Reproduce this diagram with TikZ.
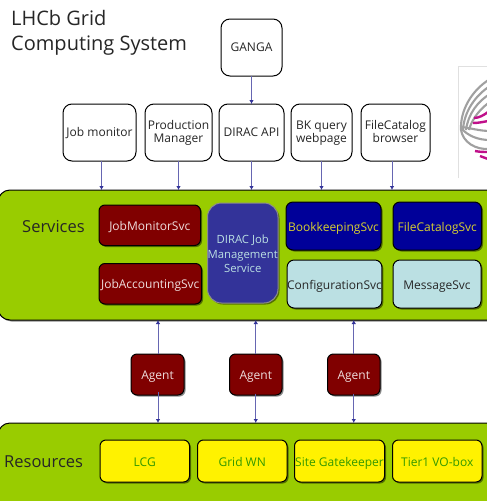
\documentclass[tikz,border=0pt]{standalone}
\usepackage{fontspec}
\setmainfont{Open Sans}
\usetikzlibrary{shadows,arrows.meta}
\definecolor{panelgreen}{HTML}{99CC00}
\definecolor{darkred}{HTML}{800000}
\definecolor{jobblue}{HTML}{333399}
\definecolor{navyblue}{HTML}{000099}
\definecolor{paleblue}{HTML}{BBE0E3}
\definecolor{mutedyellow}{HTML}{D8D030}
\definecolor{textgreen}{HTML}{339900}
\definecolor{palepink}{HTML}{EEDDDD}
\definecolor{logomag}{HTML}{C0108A}
\definecolor{logogray}{HTML}{A0A0A0}
\tikzset{
  base/.style={draw=black,line width=1pt,rounded corners=6pt,inner sep=0pt,outer sep=0pt,align=center,
    font=\fontsize{12}{13.5}\selectfont},
  shade/.style={drop shadow={shadow xshift=1.5pt,shadow yshift=-1.5pt,fill=black,opacity=0.45}},
  client/.style={base,fill=white,text=black!85,rounded corners=9pt},
  panel/.style={base,fill=panelgreen,rounded corners=12pt,shade},
  redbox/.style={base,fill=darkred,text=palepink,shade},
  jobbox/.style={base,draw=black!45,fill=jobblue,text=paleblue,rounded corners=14pt,shade,
    font=\fontsize{11.3}{14.5}\selectfont},
  navybox/.style={base,fill=navyblue,text=mutedyellow,rounded corners=7pt,shade},
  palebox/.style={base,fill=paleblue,text=black!85,rounded corners=7pt,shade},
  yellowbox/.style={base,fill=yellow,text=textgreen,shade},
  conn/.style={draw=jobblue!75,line width=1pt,-{Latex[length=4pt,width=4.5pt,color=jobblue]}},
  heading/.style={inner sep=0pt,anchor=base west,text=black!85,font=\fontsize{20}{24}\selectfont},
  lbl/.style={inner sep=0pt,font=\fontsize{16.5}{20}\selectfont,text=black!85,anchor=base west}
}
\def\textdrop{-2.5pt}
\newcommand\bx[7]{%
  \pgfmathsetmacro\cxx{(#3+#5)/2}\pgfmathsetmacro\cyy{(#4+#6)/2}%
  \node[#1,minimum width={(#5-#3)*1pt},minimum height={(#6-#4)*1pt}] (#2) at (\cxx,\cyy) {\raisebox{\textdrop}[\height][\depth]{\begin{tabular}{@{}c@{}}#7\end{tabular}}};}
\begin{document}
\begin{tikzpicture}[x=1pt,y=-1pt]
\useasboundingbox (0,0) rectangle (487,501);
\fill[white] (0,0) rectangle (487,501);
% logo
\begin{scope}
\clip (457,60) rectangle (487,180);
\draw[black!12,line width=1pt] (458,178) -- (458,66) -- (487,66);
\begin{scope}[logogray,line width=2.1pt]
\draw (490,79) .. controls (472,90) and (460,110) .. (461,130);
\draw (490,86) .. controls (476,95) and (464,111) .. (463,130);
\draw (490,94) .. controls (478,101) and (468,114) .. (466,130);
\draw (490,102) .. controls (482,107) and (472,118) .. (469,130);
\draw (461,130) .. controls (463,142) and (475,150) .. (490,149);
\draw (461,128) .. controls (468,136) and (478,140) .. (490,140);
\draw (462,127) .. controls (470,128) and (480,131) .. (490,131);
\end{scope}
\begin{scope}[logomag,line width=2.4pt]
\draw (474,118) .. controls (479,118) and (484,115) .. (488,112);
\draw (473,123) .. controls (478,123) and (483,122) .. (488,121);
\draw (475,151) .. controls (480,152) and (484,152) .. (488,152);
\draw (480,156) .. controls (483,157) and (485,158) .. (488,159);
\end{scope}
\end{scope}
% panels
\bx{panel}{services}{-2}{190}{500}{320}{}
\bx{panel}{resources}{-2}{423}{500}{520}{}
% titles
\node[heading] (t1) at (11,25) {LHCb Grid};
\node[heading] (t2) at (11,50) {Computing System};
\node[lbl] (servlbl) at (22,232) {Services};
\node[lbl] (reslbl) at (4,467) {Resources};
% clients
\def\textdrop{-1pt}
\bx{client}{ganga}{221}{19}{282}{76}{GANGA}
\bx{client}{jm}{63}{104}{136}{161}{Job monitor}
\bx{client}{pm}{145}{104}{212}{161}{Production\\Manager}
\bx{client}{api}{219}{104}{284}{161}{DIRAC API}
\bx{client}{bk}{291}{104}{352}{161}{BK query\\webpage}
\bx{client}{fc}{361}{104}{430}{161}{FileCatalog\\browser}
% services
\def\textdrop{-2.5pt}
\bx{redbox}{jms}{99}{205}{200.5}{245.5}{JobMonitorSvc}
\bx{redbox}{jas}{99}{263.5}{201.5}{304}{JobAccountingSvc}
\bx{jobbox}{djm}{207.5}{203}{278}{303}{DIRAC Job\\Management\\Service}
\bx{navybox}{bks}{286}{202}{381}{250}{BookkeepingSvc}
\bx{navybox}{fcs}{393}{202}{481.5}{250}{FileCatalogSvc}
\bx{palebox}{cfg}{288}{260}{381}{308}{ConfigurationSvc}
\bx{palebox}{msg}{393}{260}{481}{308}{MessageSvc}
% agents
\bx{redbox}{a1}{131}{354}{184}{395}{Agent}
\bx{redbox}{a2}{229.5}{354}{282}{395}{Agent}
\bx{redbox}{a3}{327.5}{354}{380}{395}{Agent}
% resources
\bx{yellowbox}{lcg}{100}{440}{189.5}{482}{LCG}
\bx{yellowbox}{wn}{197.5}{440}{287}{482}{Grid WN}
\bx{yellowbox}{gk}{294.5}{440}{384.5}{482}{Site Gatekeeper}
\bx{yellowbox}{vo}{392.5}{440}{482}{482}{Tier1 VO-box}
% connectors
\draw[conn] (ganga.south) -- (ganga.south |- api.north);
\draw[conn] ([xshift=2pt]jm.south) -- ([xshift=2pt]jm.south |- services.north);
\draw[conn] (pm.south) -- (pm.south |- services.north);
\draw[conn] (api.south) -- (api.south |- services.north);
\draw[conn] (bk.south) -- (bk.south |- services.north);
\draw[conn] ([xshift=-3.5pt]fc.south) -- ([xshift=-3.5pt]fc.south |- services.north);
\draw[conn] ([xshift=.5pt]a1.north) -- ([xshift=.5pt]a1.north |- services.south);
\draw[conn] (a2.north) -- (a2.north |- services.south);
\draw[conn] (a3.north) -- (a3.north |- services.south);
\draw[conn] ([xshift=.5pt,yshift=3pt]a1.south) -- ([xshift=.5pt]a1.south |- resources.north);
\draw[conn] ([yshift=1.5pt]a2.south) -- (a2.south |- resources.north);
\draw[conn] ([yshift=1.5pt]a3.south) -- (a3.south |- resources.north);
\end{tikzpicture}
\end{document}
